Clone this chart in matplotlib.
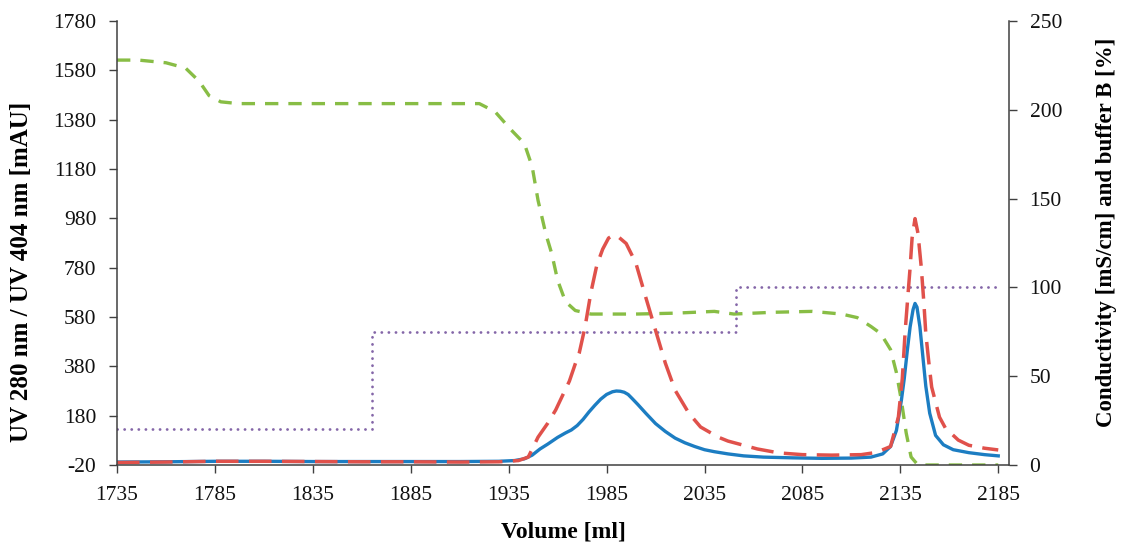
import matplotlib
matplotlib.use('Agg')
import matplotlib.pyplot as plt

plt.rcParams['font.family'] = ['Liberation Serif', 'DejaVu Serif']
plt.rcParams['axes.unicode_minus'] = False

# ---------------- data ----------------
uv280_vol = [1735, 1760, 1785, 1810, 1835, 1860, 1885, 1910, 1930, 1938, 1943, 1947,
             1951, 1955, 1960, 1964, 1967, 1970, 1973, 1976, 1979, 1982, 1985, 1988,
             1990, 1992, 1994, 1996, 1998, 2001, 2005, 2010, 2015, 2020, 2025, 2030,
             2035, 2040, 2047, 2055, 2065, 2080, 2095, 2110, 2120, 2126, 2130, 2133,
             2135.5, 2137, 2138.5, 2140, 2141.5, 2142.5, 2143.5, 2145, 2146.5, 2148,
             2150, 2153, 2157, 2162, 2170, 2178, 2185]
uv280_mau = [-8, -7, -5, -5, -6, -6, -6, -6, -5, -2, 5, 20,
             45, 65, 92, 110, 122, 140, 165, 195, 222, 247, 266, 277,
             280, 279, 275, 266, 250, 225, 190, 148, 116, 89, 70, 55,
             42, 34, 25, 17, 12, 9, 7, 8, 12, 25, 55, 120,
             240, 330, 440, 540, 610, 635, 620, 540, 420, 300,
             190, 100, 62, 42, 30, 22, 17]

uv404_vol = [1735, 1760, 1785, 1810, 1835, 1860, 1885, 1910, 1930, 1940, 1945, 1950,
             1955, 1959, 1963, 1966, 1969, 1971, 1974, 1977, 1980, 1983, 1986, 1988.5,
             1991, 1995, 1998, 2000, 2005, 2010, 2015, 2020, 2027, 2033, 2042, 2047,
             2062, 2073, 2085, 2100, 2115, 2122, 2127, 2130, 2134, 2136, 2137.5, 2139,
             2140, 2141, 2142.5, 2144, 2145.7, 2147, 2148, 2149.5, 2151, 2155, 2158,
             2164.6, 2170, 2178, 2185]
uv404_mau = [-10, -8, -5, -5, -6, -7, -7, -8, -7, -2, 12, 93,
             150, 203, 270, 320, 390, 433, 540, 680, 790, 855, 900, 912,
             905, 878, 830, 797, 660, 526, 393, 283, 190, 134, 93, 77,
             45, 29, 22, 20, 22, 30, 45, 55, 174, 330, 526, 680,
             781, 900, 979, 920, 781, 640, 514, 400, 296, 174, 130,
             81, 60, 48, 41]

cond_vol = [1735, 1746, 1760, 1770, 1777, 1782, 1788, 1797, 1850, 1900, 1920, 1928,
            1936, 1943, 1947, 1950, 1954, 1957, 1960, 1964, 1969, 1977, 2000, 2020,
            2040, 2050, 2070, 2090, 2105, 2113, 2120, 2125, 2130, 2133, 2135.5, 2138,
            2140.5, 2144, 2160, 2185]
cond_ms = [228, 228, 226.5, 223.5, 216, 208, 204.5, 203.5, 203.5, 203.5, 203.5, 199,
           189, 181, 168, 149, 130, 119, 104, 92, 87, 85, 85, 85.5,
           86.5, 85, 86, 86.5, 85, 83, 78, 74, 65, 52, 36.5, 18,
           4.5, 0, 0, 0]

bufB_vol = [1735, 1865, 2051, 2185]
bufB_pct = [20, 75, 100, 100]

x_ticks = list(range(1735, 2186, 50))
left_ticks = list(range(-20, 1781, 200))
right_ticks = list(range(0, 251, 50))

# ---------------- styling ----------------
BLUE = '#1C7DC2'
RED = '#E0514B'
GREEN = '#88BD45'
PURPLE = '#8466A8'
AXC = '#404040'

fig = plt.figure(figsize=(11.22, 5.49), dpi=100)
ax = fig.add_axes([0.1043, 0.153, 0.795, 0.8087])
ax2 = ax.twinx()

ax.set_zorder(ax2.get_zorder() + 1)
ax.patch.set_visible(False)

# right axis series (behind)
ax2.plot(cond_vol, cond_ms, color=GREEN, lw=2.4, linestyle=(0, (4.0, 3.0)),
         dash_capstyle='butt')
ax2.plot(bufB_vol, bufB_pct, color=PURPLE, lw=2.0, drawstyle='steps-post',
         linestyle=(0, (0.05, 2.5)), dash_capstyle='round')

# left axis series
ax.plot(uv280_vol, uv280_mau, color=BLUE, lw=2.4, solid_joinstyle='round')
ax.plot(uv404_vol, uv404_mau, color=RED, lw=2.5, linestyle=(0, (6.5, 3.0)),
        dash_capstyle='butt', dash_joinstyle='round')

ax.set_xlim(1735, 2190.5)
ax.set_ylim(-20, 1780)
ax2.set_ylim(0, 250)
ax.set_xticks(x_ticks)
ax.set_yticks(left_ticks)
ax2.set_yticks(right_ticks)

for a in (ax, ax2):
    a.spines['top'].set_visible(False)
    for s in a.spines.values():
        s.set_color(AXC)
        s.set_linewidth(1.1)
ax.spines['right'].set_visible(False)
ax2.spines['left'].set_visible(False)
ax2.spines['bottom'].set_visible(False)

ax.tick_params(axis='both', direction='out', length=5.8, width=1.0, color=AXC,
               labelsize=15.5, pad=9, labelcolor='#111111')
ax2.tick_params(axis='y', direction='out', length=5.8, width=1.0, color=AXC,
                labelsize=15.5, pad=9, labelcolor='#111111')

ax.set_xlabel('Volume [ml]', fontsize=17, fontweight='bold', labelpad=12)
ax.set_ylabel('UV 280 nm / UV 404 nm [mAU]', fontsize=18, fontweight='bold')
ax.yaxis.set_label_coords(-0.094, 0.435)
ax2.set_ylabel('Conductivity [mS/cm] and buffer B [%]', fontsize=16.5, fontweight='bold')
ax2.yaxis.set_label_coords(1.098, 0.525)

fig.savefig('out.png', dpi=100)
